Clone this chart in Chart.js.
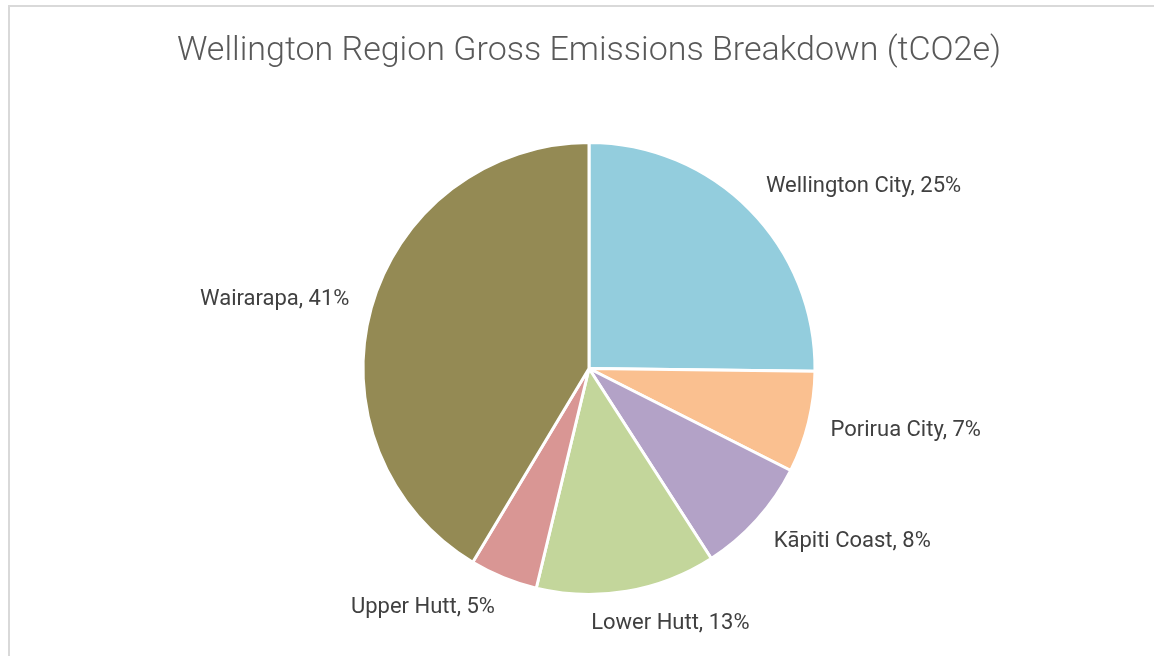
<!DOCTYPE html>
<html>
<head>
<meta charset="utf-8">
<script src="https://cdn.jsdelivr.net/npm/chart.js@4"></script>
<style>
  html, body { margin: 0; padding: 0; background: #fff; }
  body { width: 1161px; height: 656px; position: relative; overflow: hidden; }
  #frame {
    position: absolute; left: 8px; top: 5px; width: 1144px; height: 700px;
    border-top: 2px solid #d9d9d9; border-left: 2px solid #d9d9d9;
  }
  #wrap { position: absolute; left: 0; top: 0; width: 1161px; height: 656px; }
</style>
</head>
<body>
<div id="frame"></div>
<div id="wrap"><canvas id="chart"></canvas></div>
<script>
// share of gross emissions (percent)
const regions = ['Wellington City', 'Porirua City', 'Kāpiti Coast', 'Lower Hutt', 'Upper Hutt', 'Wairarapa'];
const shares = [25.2, 7.25, 8.45, 12.85, 4.85, 41.4];
const sliceColors = ['#93CDDD', '#FAC090', '#B3A2C7', '#C3D69B', '#D99694', '#948A54'];

// outside labels, roughly where Excel's best fit puts them
const outsideLabels = {
  id: 'outsideLabels',
  afterDatasetsDraw(chart) {
    const ctx = chart.ctx;
    const meta = chart.getDatasetMeta(0);
    const total = shares.reduce((a, b) => a + b, 0);
    ctx.save();
    ctx.font = '22px Roboto';
    ctx.fillStyle = '#404040';
    ctx.textBaseline = 'middle';
    ctx.textAlign = 'left';
    meta.data.forEach((arc, i) => {
      const p = arc.getProps(['x', 'y', 'startAngle', 'endAngle', 'outerRadius'], true);
      const mid = (p.startAngle + p.endAngle) / 2;
      const r = p.outerRadius * 1.1;
      const ax = p.x + Math.cos(mid) * r;
      const ay = p.y + Math.sin(mid) * r;
      const text = regions[i] + ', ' + Math.round(shares[i] / total * 100) + '%';
      const w = ctx.measureText(text).width;
      const f = Math.min(1, Math.max(0, 0.5 - 1.5 * Math.cos(mid)));
      ctx.fillText(text, ax - f * w, ay + 10 * Math.sin(mid));
    });
    ctx.restore();
  }
};

new Chart(document.getElementById('chart'), {
  type: 'pie',
  data: {
    labels: regions,
    datasets: [{
      data: shares,
      backgroundColor: sliceColors,
      borderColor: '#ffffff',
      borderWidth: 3,
      hoverOffset: 0
    }]
  },
  options: {
    responsive: true,
    maintainAspectRatio: false,
    animation: false,
    layout: { padding: { left: 100, right: 83, top: 0, bottom: 60 } },
    plugins: {
      legend: { display: false },
      tooltip: { enabled: false },
      title: {
        display: true,
        text: 'Wellington Region Gross Emissions Breakdown (tCO2e)',
        color: '#595959',
        font: { family: 'Roboto', size: 34, weight: '300', lineHeight: 1.2 },
        padding: { top: 30.6, bottom: 69.6 }
      }
    }
  },
  plugins: [outsideLabels]
});
</script>
</body>
</html>
